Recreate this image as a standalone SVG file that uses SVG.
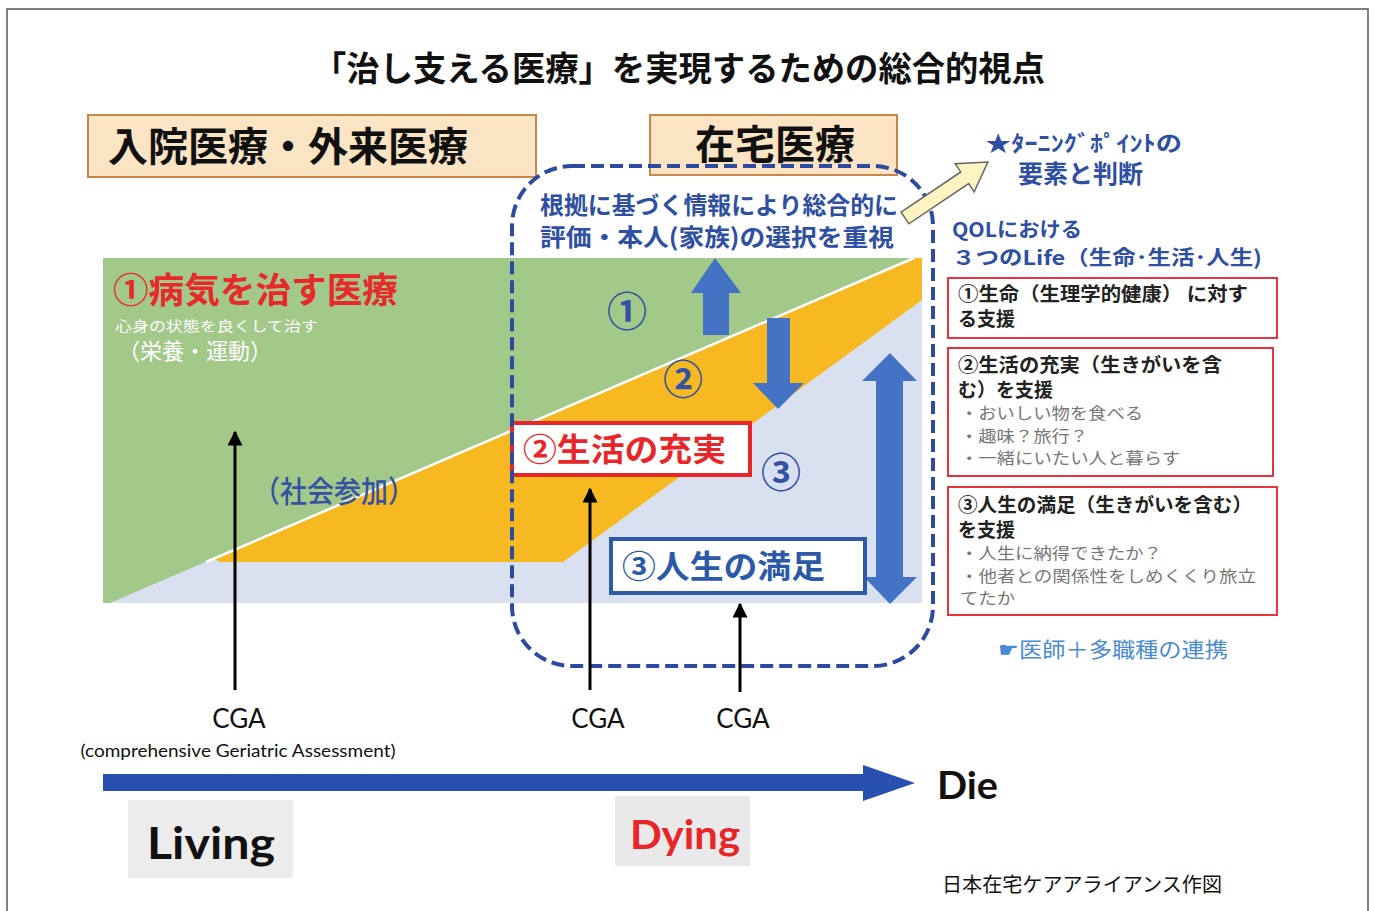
<svg xmlns="http://www.w3.org/2000/svg" width="1375" height="911" viewBox="0 0 1375 911">
<defs>
<style>
.jp{font-family:"Noto Sans CJK JP","Noto Sans",sans-serif}
.b{font-weight:bold}
.lat{font-family:Lato,"Open Sans","Liberation Sans",sans-serif}
.hbox{fill:#fbe4c4;stroke:#c8874a;stroke-width:2}
.blk{fill:#4472c4}
.cga{stroke:#000;stroke-width:3;fill:none;marker-end:url(#ah)}
.rbox{fill:#fff;stroke:#e8333a;stroke-width:2}
.dark{fill:#2f4fa3}
.grey{fill:#777}
.circ{font-family:"Noto Sans CJK JP",sans-serif;font-weight:bold;fill:#3452a4;font-size:40px;text-anchor:middle}
</style>
<marker id="ah" viewBox="0 0 10 10" refX="9" refY="5" markerWidth="5" markerHeight="5" orient="auto" markerUnits="strokeWidth">
<path d="M0,0 L10,5 L0,10 z" fill="#000"/>
</marker>
</defs>
<rect x="0" y="0" width="1375" height="911" fill="#fff"/>
<rect x="7" y="9" width="1361" height="920" fill="none" stroke="#555" stroke-width="1.5"/>

<text class="jp b" x="679" y="81" font-size="34" text-anchor="middle" fill="#111" textLength="732" lengthAdjust="spacingAndGlyphs">「治し支える医療」を実現するための総合的視点</text>

<g id="hosp-box">
<rect class="hbox" x="88" y="115" width="448" height="62"/>
<text class="jp b" x="108" y="161" font-size="40" fill="#111" textLength="360" lengthAdjust="spacingAndGlyphs">入院医療・外来医療</text>
</g>
<g id="home-box">
<rect class="hbox" x="650" y="115" width="247" height="60"/>
<text class="jp b" x="775" y="159" font-size="40" fill="#111" text-anchor="middle">在宅医療</text>
</g>

<g id="chart">
<rect x="103" y="258" width="819" height="345" fill="#d9e1f1"/>
<polygon points="103,258 914,258 110,603 103,603" fill="#a3c98a"/>
<polygon points="214,559 914,258 922,258 922,300 563,562 220,562" fill="#f6b921"/>
<line x1="206" y1="562" x2="914" y2="258" stroke="#fff" stroke-width="2.5"/>
<text class="jp b" x="113" y="303" font-size="35" fill="#e62a2a" textLength="285" lengthAdjust="spacingAndGlyphs">①病気を治す医療</text>
<text class="jp" x="115" y="331" font-size="14" fill="#fff" textLength="203" lengthAdjust="spacingAndGlyphs">心身の状態を良くして治す</text>
<text class="jp" x="118" y="359" font-size="22" fill="#fff">（栄養・運動）</text>
<text class="jp" x="253" y="502" font-size="30" font-weight="500" fill="#3452a4" textLength="162" lengthAdjust="spacingAndGlyphs">（社会参加）</text>
<text class="circ" x="627" y="326">①</text>
<text class="circ" x="683" y="394">②</text>
<text class="circ" x="781" y="487">③</text>
</g>

<g id="block-arrows">
<polygon class="blk" points="715,258 741,293 729,293 729,335 703,335 703,293 691,293"/>
<polygon class="blk" points="767,318 790,318 790,383 804,383 778,409 753,383 767,383"/>
<polygon class="blk" points="890,353 917,381 903,381 903,577 917,577 890,604 864,577 876,577 876,381 862,381"/>
</g>

<g id="life-box">
<rect x="512" y="423" width="238" height="52" fill="#fff" stroke="#e8262a" stroke-width="4"/>
<text class="jp b" x="523" y="461" font-size="32" fill="#e8262a" textLength="203" lengthAdjust="spacingAndGlyphs">②生活の充実</text>
</g>
<g id="satisfaction-box">
<rect x="611" y="539" width="254" height="54" fill="#fff" stroke="#2c5aa8" stroke-width="4"/>
<text class="jp b" x="622" y="578" font-size="32" fill="#2c5aa8" textLength="203" lengthAdjust="spacingAndGlyphs">③人生の満足</text>
</g>

<g id="home-frame">
<rect x="512" y="166" width="421" height="500" rx="60" fill="none" stroke="#2b4aa0" stroke-width="4" stroke-dasharray="13,6"/>
<text class="jp b dark" x="540" y="214" font-size="24" textLength="358" lengthAdjust="spacingAndGlyphs">根拠に基づく情報により総合的に</text>
<text class="jp b dark" x="540" y="246" font-size="24" textLength="354" lengthAdjust="spacingAndGlyphs">評価・本人(家族)の選択を重視</text>
</g>

<g id="turning">
<g transform="translate(905,218) rotate(-34)">
<polygon points="0,-7 72,-7 72,-17 100,0 72,17 72,7 0,7" fill="#fdf4c2" stroke="#666" stroke-width="1.5"/>
</g>
<text class="jp b dark" x="985" y="151" font-size="22" textLength="197" lengthAdjust="spacingAndGlyphs">★ﾀｰﾆﾝｸﾞﾎﾟｲﾝﾄの</text>
<text class="jp b dark" x="1018" y="183" font-size="25" textLength="125" lengthAdjust="spacingAndGlyphs">要素と判断</text>
</g>

<g id="qol">
<text class="jp b dark" x="952" y="237" font-size="20" textLength="130" lengthAdjust="spacingAndGlyphs">QOLにおける</text>
<text class="jp b dark" x="952" y="265" font-size="20" textLength="310" lengthAdjust="spacingAndGlyphs">３つのLife（生命･生活･人生)</text>
</g>

<g id="support1">
<rect class="rbox" x="948" y="278" width="329" height="60"/>
<text class="jp b" x="958" y="301" font-size="19" fill="#222" textLength="290" lengthAdjust="spacingAndGlyphs">①生命（生理学的健康） に対す</text>
<text class="jp b" x="958" y="326" font-size="19" fill="#222">る支援</text>
</g>
<g id="support2">
<rect class="rbox" x="948" y="348" width="325" height="128"/>
<text class="jp b" x="958" y="372" font-size="19" fill="#222" textLength="264" lengthAdjust="spacingAndGlyphs">②生活の充実（生きがいを含</text>
<text class="jp b" x="958" y="397" font-size="19" fill="#222">む）を支援</text>
<text class="jp grey" x="960" y="419" font-size="16" textLength="183" lengthAdjust="spacingAndGlyphs">・おいしい物を食べる</text>
<text class="jp grey" x="960" y="442" font-size="16" textLength="128" lengthAdjust="spacingAndGlyphs">・趣味？旅行？</text>
<text class="jp grey" x="960" y="464" font-size="16" textLength="220" lengthAdjust="spacingAndGlyphs">・一緒にいたい人と暮らす</text>
</g>
<g id="support3">
<rect class="rbox" x="948" y="487" width="329" height="128"/>
<text class="jp b" x="958" y="512" font-size="19" fill="#222" textLength="294" lengthAdjust="spacingAndGlyphs">③人生の満足（生きがいを含む）</text>
<text class="jp b" x="958" y="537" font-size="19" fill="#222">を支援</text>
<text class="jp grey" x="960" y="559" font-size="16" textLength="202" lengthAdjust="spacingAndGlyphs">・人生に納得できたか？</text>
<text class="jp grey" x="960" y="582" font-size="16" textLength="296" lengthAdjust="spacingAndGlyphs">・他者との関係性をしめくくり旅立</text>
<text class="jp grey" x="960" y="604" font-size="16" textLength="55" lengthAdjust="spacingAndGlyphs">てたか</text>
</g>
<text class="jp" x="1113" y="657" font-size="21" fill="#4a8ad4" text-anchor="middle" textLength="230" lengthAdjust="spacingAndGlyphs">☛医師＋多職種の連携</text>

<g id="connectors">
<line class="cga" x1="235" y1="690" x2="235" y2="432"/>
<line class="cga" x1="590" y1="690" x2="590" y2="489"/>
<line class="cga" x1="740" y1="692" x2="740" y2="604"/>
</g>

<g id="cga-labels">
<text class="lat" x="239" y="728" font-size="26" text-anchor="middle" fill="#111">CGA</text>
<text class="lat" x="238" y="757" font-size="17" text-anchor="middle" fill="#111" textLength="315" lengthAdjust="spacingAndGlyphs">(comprehensive Geriatric Assessment)</text>
<text class="lat" x="598" y="728" font-size="26" text-anchor="middle" fill="#111">CGA</text>
<text class="lat" x="743" y="728" font-size="26" text-anchor="middle" fill="#111">CGA</text>
</g>

<g id="timeline">
<polygon points="103,774 863,774 863,765 915,783 863,801 863,791 103,791" fill="#2850b0"/>
<text class="lat b" x="937" y="799" font-size="38" fill="#111" textLength="61" lengthAdjust="spacingAndGlyphs">Die</text>
</g>
<g id="living">
<rect x="128" y="800" width="165" height="78" fill="#ececec"/>
<text class="lat b" x="147" y="859" font-size="44" fill="#111" textLength="128" lengthAdjust="spacingAndGlyphs">Living</text>
</g>
<g id="dying">
<rect x="615" y="796" width="135" height="70" fill="#e9e9e9"/>
<text class="lat b" x="630" y="849" font-size="40" fill="#e8262a" textLength="110" lengthAdjust="spacingAndGlyphs">Dying</text>
</g>
<text class="jp" x="942" y="892" font-size="20" fill="#111" textLength="280" lengthAdjust="spacingAndGlyphs">日本在宅ケアアライアンス作図</text>
</svg>
